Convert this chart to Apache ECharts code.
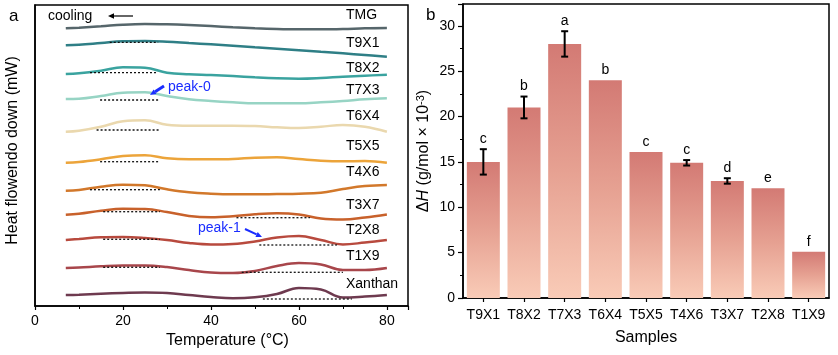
<!DOCTYPE html>
<html><head><meta charset="utf-8">
<script src="https://cdn.jsdelivr.net/npm/echarts@6/dist/echarts.min.js"></script>
<style>html,body{margin:0;padding:0;background:#fff}#c{width:838px;height:355px}</style>
</head><body><div id="c"></div>
<script>
// ---------- DATA (panel a: DSC cooling curves, stacked, arbitrary units) ----------
const temps = [7, 10, 15, 20, 25, 30, 35, 40, 45, 50, 55, 60, 65, 70, 75, 80];
const curveNames = ['TMG','T9X1','T8X2','T7X3','T6X4','T5X5','T4X6','T3X7','T2X8','T1X9','Xanthan'];
const flowTMG   = [277.7, 278.3, 279.7, 281.3, 282, 281.7, 281, 280, 278.7, 277.7, 277, 276.7, 276.7, 277, 277.7, 278];
const flowT9X1  = [260.7, 261.3, 263, 264.7, 265, 264.3, 263, 261.7, 260.3, 258.7, 257.2, 255.7, 254.2, 252.7, 251, 249.3];
const flowT8X2  = [232, 232.7, 235.3, 238.7, 238.3, 233.3, 231.7, 231, 230, 228.7, 227.7, 227.3, 228, 229.3, 230.3, 231.3];
const flowT7X3  = [207, 207.3, 210, 213.3, 213.7, 210, 206.7, 205, 203.7, 202.7, 202.7, 202.7, 203.7, 205, 206.7, 207.7];
const flowT6X4  = [174.3, 175.3, 179.3, 184.7, 185.7, 181.3, 180.3, 180.3, 180.3, 180, 178.7, 178, 179.3, 181, 179.3, 174.3];
const flowT5X5  = [143.3, 144, 146.7, 150, 150.7, 147.7, 146.7, 146.7, 147, 148.3, 148.7, 147, 145.3, 144.7, 145, 143.3];
const flowT4X6  = [115.3, 116, 119.3, 121.3, 120.7, 116.7, 113.7, 112.3, 111.7, 111.7, 112, 112.3, 113.3, 117, 120, 121];
const flowT3X7  = [91.3, 92.3, 95.3, 97.3, 97, 94, 90, 88.7, 89.7, 91.7, 92.7, 91.5, 87.5, 86.5, 88.5, 91.5];
const flowT2X8  = [66, 67, 68.7, 69, 68, 66, 63, 61.5, 62, 64.5, 68.5, 70, 66, 61.5, 63.5, 66];
const flowT1X9  = [38, 38.5, 39.7, 40.5, 40.5, 39, 36, 33.5, 33, 35, 40, 43, 41.5, 36, 36, 38];
const flowXanthan = [11, 11.3, 12.2, 13, 13.5, 13, 11, 9, 7.7, 8.7, 12, 18, 16.5, 8.5, 9.5, 11];
const curveFlows = [flowTMG, flowT9X1, flowT8X2, flowT7X3, flowT6X4, flowT5X5, flowT4X6, flowT3X7, flowT2X8, flowT1X9, flowXanthan];
// integration baselines: [startT, endT, level]
const baselines = [
  [17, 28, 263.7], [12.5, 27.7, 233.3], [14.8, 28.4, 206], [14, 28.4, 176], [14.8, 28.4, 144.3],
  [12.5, 28.4, 116.3], [15.5, 28.4, 94.3], [45.8, 62.5, 88.3], [15.5, 28.4, 66.7], [51, 68.6, 61],
  [15.5, 28.4, 38.7], [47, 70, 33.7], [51.8, 72, 7]
];

// ---------- DATA (panel b: enthalpy bars) ----------
const samples = ['T9X1','T8X2','T7X3','T6X4','T5X5','T4X6','T3X7','T2X8','T1X9'];
const enthalpy = [15, 21, 28, 24, 16.1, 14.9, 12.9, 12.1, 5.1];
const enthalpyErr = [1.4, 1.2, 1.4, 0, 0, 0.3, 0.3, 0, 0];
const sigLetters = ['c','b','a','b','c','c','d','e','f'];
const tempTicks = [0, 20, 40, 60, 80];

// ---------- STYLE / LAYOUT ----------
const FONT = 'Liberation Sans, Arial, sans-serif';
const curveColors = ['#56666b','#2f7f86','#3aa39f','#97d4c4','#ead8ae','#eca43a','#d2782b','#c8612b','#b84a3e','#a8464b','#6e3a4f'];
const labelPixY = [15, 43.3, 67.7, 90, 115.7, 145.7, 172.3, 205, 230, 255.7, 284.3];
const labelPixX = 346;

const chart = echarts.init(document.getElementById('c'), null, {renderer: 'canvas'});

function arrow(x1, y1, x2, y2, color, w, h) {
  const ang = Math.atan2(y2 - y1, x2 - x1);
  const bx = x2 - h * Math.cos(ang), by = y2 - h * Math.sin(ang);
  const px = -Math.sin(ang) * h * 0.45, py = Math.cos(ang) * h * 0.45;
  return [
    {type: 'line', shape: {x1: x1, y1: y1, x2: bx, y2: by}, style: {stroke: color, lineWidth: w}, z: 50},
    {type: 'polygon', shape: {points: [[x2, y2], [bx + px, by + py], [bx - px, by - py]]}, style: {fill: color}, z: 50}
  ];
}

const series = [];
curveFlows.forEach((arr, k) => {
  series.push({
    type: 'line', name: curveNames[k], xAxisIndex: 0, yAxisIndex: 0,
    data: temps.map((t, i) => [t, arr[i]]),
    smooth: 0.4, symbol: 'none', silent: true,
    lineStyle: {color: curveColors[k], width: 2.5}, z: 3
  });
});
baselines.forEach(b => {
  series.push({
    type: 'line', xAxisIndex: 0, yAxisIndex: 0,
    data: [[b[0], b[2]], [b[1], b[2]]], symbol: 'none', silent: true,
    lineStyle: {color: '#111', width: 1.3, type: [2, 2]}, z: 4
  });
});

series.push({
  type: 'bar', xAxisIndex: 1, yAxisIndex: 1, data: enthalpy, barWidth: 33, silent: true,
  itemStyle: {color: new echarts.graphic.LinearGradient(0, 0, 0, 1, [
    {offset: 0, color: '#d37a74'}, {offset: 0.5, color: '#e6a192'}, {offset: 1, color: '#f9cbb7'}
  ])}
});
series.push({
  type: 'custom', xAxisIndex: 1, yAxisIndex: 1, silent: true, z: 10,
  data: enthalpy.map((v, i) => [i, v, enthalpyErr[i]]),
  renderItem: function (params, api) {
    const i = api.value(0), v = api.value(1), e = api.value(2);
    const c = api.coord([i, v]);
    const children = [];
    let topY = c[1];
    if (e > 0) {
      const hi = api.coord([i, v + e]), lo = api.coord([i, v - e]);
      const w = 3.5;
      children.push({type: 'line', shape: {x1: c[0], y1: hi[1], x2: c[0], y2: lo[1]}, style: {stroke: '#000', lineWidth: 2}});
      children.push({type: 'line', shape: {x1: c[0] - w, y1: hi[1], x2: c[0] + w, y2: hi[1]}, style: {stroke: '#000', lineWidth: 2}});
      children.push({type: 'line', shape: {x1: c[0] - w, y1: lo[1], x2: c[0] + w, y2: lo[1]}, style: {stroke: '#000', lineWidth: 2}});
      topY = hi[1];
    }
    children.push({type: 'text', style: {text: sigLetters[i], x: c[0], y: topY - 3, align: 'center', verticalAlign: 'bottom', font: '14px ' + FONT, fill: '#000'}});
    return {type: 'group', children: children};
  }
});

const graphics = [
  {type: 'text', left: 9, top: 8, style: {text: 'a', font: '17px ' + FONT, fill: '#000'}},
  {type: 'text', left: 426, top: 7, style: {text: 'b', font: '17px ' + FONT, fill: '#000'}},
  {type: 'text', x: 48, y: 16, style: {text: 'cooling', font: '14px ' + FONT, fill: '#000', verticalAlign: 'middle'}},
  {type: 'text', x: 168, y: 87, style: {text: 'peak-0', font: '14px ' + FONT, fill: '#1a2dff', verticalAlign: 'middle'}},
  {type: 'text', x: 198, y: 228, style: {text: 'peak-1', font: '14px ' + FONT, fill: '#1a2dff', verticalAlign: 'middle'}}
].concat(arrow(133, 16, 108, 16, '#000', 1.2, 6))
 .concat(arrow(164, 86, 150, 95, '#1a2dff', 3, 6))
 .concat(arrow(245, 229, 262, 237, '#1a2dff', 2, 6));
curveNames.forEach((n, k) => {
  graphics.push({type: 'text', x: labelPixX, y: labelPixY[k], style: {text: n, font: '14px ' + FONT, fill: '#000', verticalAlign: 'middle'}});
});

const axisLine = {show: true, lineStyle: {color: '#000', width: 1.5}};
const option = {
  animation: false,
  backgroundColor: '#fff',
  grid: [
    {left: 35, top: 5, width: 373, height: 301, show: true, borderColor: '#000', borderWidth: 1.5},
    {left: 463, top: 4, width: 366, height: 294, show: true, borderColor: '#000', borderWidth: 1.5}
  ],
  xAxis: [
    {
      type: 'value', gridIndex: 0, min: 0, max: 84.8, interval: 20,
      axisLine: axisLine,
      axisTick: {show: true, length: 4, inside: false, lineStyle: {color: '#000', width: 1.2}},
      minorTick: {show: true, splitNumber: 2, length: 3, lineStyle: {color: '#000', width: 1}},
      splitLine: {show: false},
      axisLabel: {color: '#000', fontSize: 14, fontFamily: FONT, margin: 8,
        formatter: v => tempTicks.indexOf(v) >= 0 ? String(v) : ''},
      name: 'Temperature (°C)', nameLocation: 'middle', nameGap: 27,
      nameTextStyle: {color: '#000', fontSize: 16, fontFamily: FONT, padding: [0, 0, 0, 12]}
    },
    {
      type: 'category', gridIndex: 1, data: samples, boundaryGap: true,
      axisLine: axisLine,
      axisTick: {show: true, alignWithLabel: true, length: 4, lineStyle: {color: '#000', width: 1.2}},
      axisLabel: {color: '#000', fontSize: 14, fontFamily: FONT, margin: 10, interval: 0},
      name: 'Samples', nameLocation: 'middle', nameGap: 32,
      nameTextStyle: {color: '#000', fontSize: 16, fontFamily: FONT}
    }
  ],
  yAxis: [
    {
      type: 'value', gridIndex: 0, min: 0, max: 301,
      axisLine: axisLine, axisTick: {show: false}, axisLabel: {show: false}, splitLine: {show: false},
      name: 'Heat flowendo down (mW)', nameLocation: 'middle', nameGap: 14, nameRotate: 90,
      nameTextStyle: {color: '#000', fontSize: 16, fontFamily: FONT, padding: [0, 0, 0, 10]}
    },
    {
      type: 'value', gridIndex: 1, min: 0, max: 32.4, interval: 5,
      axisLine: axisLine,
      axisTick: {show: true, length: 5, lineStyle: {color: '#000', width: 1.2}},
      minorTick: {show: true, splitNumber: 2, length: 3, lineStyle: {color: '#000', width: 1}},
      splitLine: {show: false},
      axisLabel: {color: '#000', fontSize: 14, fontFamily: FONT, margin: 8,
        formatter: v => (v % 5 === 0) ? String(v) : ''},
      name: '{n|Δ}{i|H}{n| (g/mol × 10}{s|-3}{n|)}', nameLocation: 'middle', nameGap: 30, nameRotate: 90,
      nameTextStyle: {color: '#000', fontSize: 16, fontFamily: FONT,
        rich: {
          n: {fontSize: 16, fontFamily: FONT, color: '#000'},
          i: {fontSize: 16, fontFamily: FONT, fontStyle: 'italic', color: '#000'},
          s: {fontSize: 11, fontFamily: FONT, color: '#000', verticalAlign: 'top', padding: [0, 0, 7, 0]}
        }}
    }
  ],
  series: series,
  graphic: graphics
};
chart.setOption(option);
</script>
</body></html>
